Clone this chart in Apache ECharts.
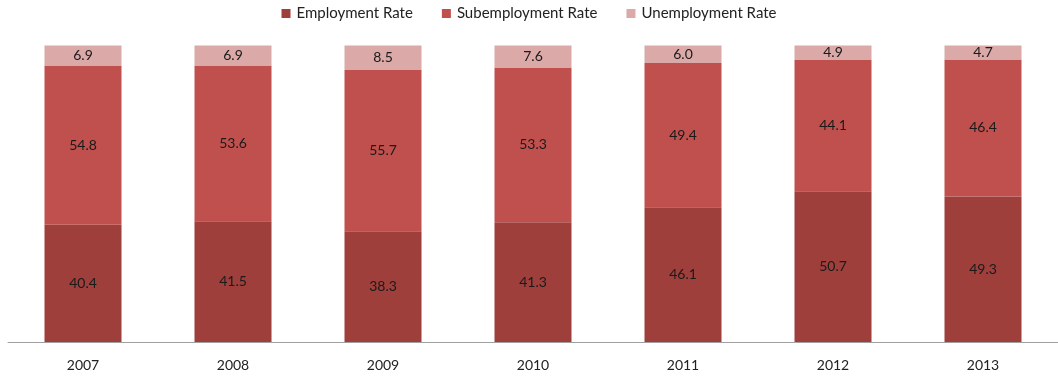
<!DOCTYPE html>
<html>
<head>
<meta charset="utf-8">
<script src="https://cdn.jsdelivr.net/npm/echarts@6/dist/echarts.min.js"></script>
<style>
  html, body { margin: 0; padding: 0; background: #fff; }
  #chart { width: 1058px; height: 377px; }
</style>
</head>
<body>
<div id="chart"></div>
<script>
const years = ['2007', '2008', '2009', '2010', '2011', '2012', '2013'];
const employment = [40.4, 41.5, 38.3, 41.3, 46.1, 50.7, 49.3];
const subemployment = [54.8, 53.6, 55.7, 53.3, 49.4, 44.1, 46.4];
const unemployment = [6.9, 6.9, 8.5, 7.6, 6.0, 4.9, 4.7];

const seriesNames = ['Employment Rate', 'Subemployment Rate', 'Unemployment Rate'];
const seriesColors = ['#9E3F3C', '#C0504D', '#DAA9A8'];
const rows = [employment, subemployment, unemployment];

// 100% stacked: each bar segment is its share of the year's total,
// while the label shows the reported rate.
const totals = years.map((_, i) => rows.reduce((s, r) => s + r[i], 0));

const FONT = 'Lato, "Liberation Sans", sans-serif';

const chart = echarts.init(document.getElementById('chart'), null, { renderer: 'canvas' });
chart.setOption({
  animation: false,
  textStyle: { fontFamily: FONT },
  legend: {
    top: 1,
    left: 'center',
    itemWidth: 9,
    itemHeight: 9,
    itemGap: 29,
    icon: 'rect',
    textStyle: { fontFamily: FONT, fontSize: 15, color: '#222', padding: [0, 0, 0, 1] },
    data: seriesNames
  },
  grid: { left: 8, right: 0, top: 45.5, bottom: 35 },
  xAxis: {
    type: 'category',
    data: years,
    axisLine: { lineStyle: { color: '#A0A0A0', width: 1 } },
    axisTick: { show: false },
    axisLabel: { fontFamily: FONT, fontSize: 14, color: '#222', margin: 16 }
  },
  yAxis: {
    type: 'value',
    min: 0,
    max: 100,
    show: false,
    splitLine: { show: false }
  },
  series: rows.map((row, k) => ({
    name: seriesNames[k],
    type: 'bar',
    stack: 'total',
    barWidth: 77,
    itemStyle: { color: seriesColors[k] },
    label: {
      show: true,
      position: 'inside',
      fontFamily: FONT,
      fontSize: 14,
      color: '#1a1a1a',
      formatter: p => row[p.dataIndex].toFixed(1)
    },
    data: row.map((v, i) => v / totals[i] * 100)
  }))
});
</script>
</body>
</html>
